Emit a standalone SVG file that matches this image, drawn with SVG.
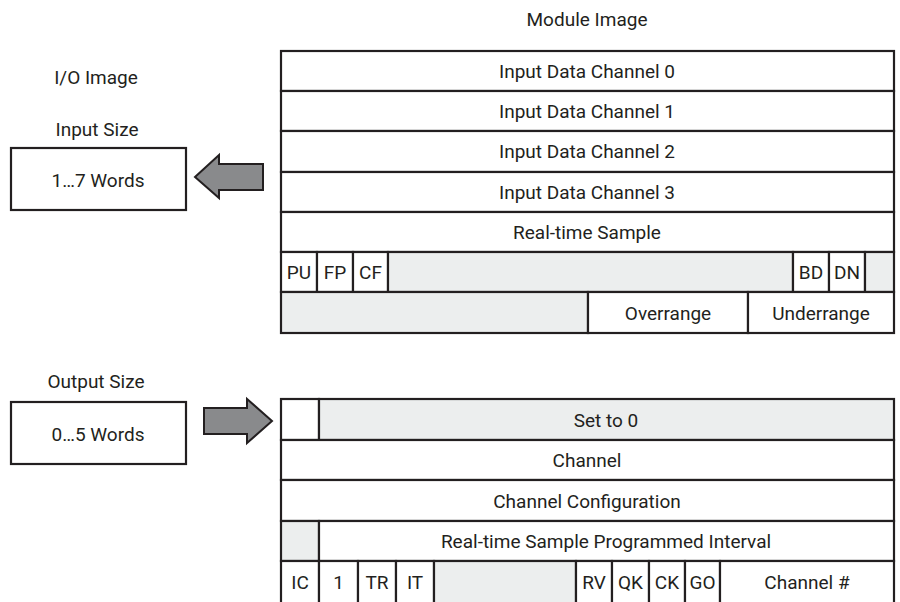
<svg xmlns="http://www.w3.org/2000/svg" width="900" height="602" viewBox="0 0 900 602">
<style>
  text { font-family: Roboto, "Liberation Sans", sans-serif; font-size: 19px; fill: #231f20; text-anchor: middle; dominant-baseline: central; }
  .c { fill: #ffffff; stroke: #231f20; stroke-width: 2.2; }
  .g { fill: #eceeee; stroke: #231f20; stroke-width: 2.2; }
  .arrow { fill: #898a8c; stroke: #231f20; stroke-width: 2; stroke-linejoin: miter; }
</style>
<rect width="900" height="602" fill="#ffffff"/>

<text x="587" y="19">Module Image</text>
<text x="96" y="77">I/O Image</text>
<text x="97" y="129">Input Size</text>
<text x="96" y="381">Output Size</text>

<g id="input-size-box">
  <rect class="c" x="11" y="148" width="175" height="62"/>
  <text x="98" y="180">1…7 Words</text>
</g>
<g id="output-size-box">
  <rect class="c" x="11" y="402" width="175" height="62"/>
  <text x="98" y="434">0…5 Words</text>
</g>

<g id="connectors">
  <polygon class="arrow" points="195,177 219,155 219,164 263,164 263,190 219,190 219,198"/>
  <polygon class="arrow" points="204,408 247,408 247,399 272,421 247,443 247,434 204,434"/>
</g>

<g id="module-input">
  <g id="in-ch0"><rect class="c" x="281" y="51" width="613" height="40"/><text x="587" y="71">Input Data Channel 0</text></g>
  <g id="in-ch1"><rect class="c" x="281" y="91" width="613" height="40"/><text x="587" y="111">Input Data Channel 1</text></g>
  <g id="in-ch2"><rect class="c" x="281" y="131" width="613" height="41"/><text x="587" y="151">Input Data Channel 2</text></g>
  <g id="in-ch3"><rect class="c" x="281" y="172" width="613" height="40"/><text x="587" y="192">Input Data Channel 3</text></g>
  <g id="in-rts"><rect class="c" x="281" y="212" width="613" height="40"/><text x="587" y="232">Real-time Sample</text></g>
  <g id="in-status">
    <rect class="c" x="281" y="252" width="36" height="40"/><text x="299" y="272">PU</text>
    <rect class="c" x="317" y="252" width="36" height="40"/><text x="335" y="272">FP</text>
    <rect class="c" x="353" y="252" width="35" height="40"/><text x="370.5" y="272">CF</text>
    <rect class="g" x="388" y="252" width="405" height="40"/>
    <rect class="c" x="793" y="252" width="36" height="40"/><text x="811" y="272">BD</text>
    <rect class="c" x="829" y="252" width="36" height="40"/><text x="847" y="272">DN</text>
    <rect class="g" x="865" y="252" width="29" height="40"/>
  </g>
  <g id="in-range">
    <rect class="g" x="281" y="292" width="307" height="41"/>
    <rect class="c" x="588" y="292" width="160" height="41"/><text x="668" y="313">Overrange</text>
    <rect class="c" x="748" y="292" width="146" height="41"/><text x="821" y="313">Underrange</text>
  </g>
</g>

<g id="module-output">
  <g id="out-set0">
    <rect class="c" x="281" y="399" width="38" height="41"/>
    <rect class="g" x="319" y="399" width="575" height="41"/><text x="606" y="420">Set to 0</text>
  </g>
  <g id="out-channel"><rect class="c" x="281" y="440" width="613" height="40"/><text x="587" y="460">Channel</text></g>
  <g id="out-config"><rect class="c" x="281" y="480" width="613" height="41"/><text x="587" y="501">Channel Configuration</text></g>
  <g id="out-rtspi">
    <rect class="g" x="281" y="521" width="38" height="40"/>
    <rect class="c" x="319" y="521" width="575" height="40"/><text x="606" y="541">Real-time Sample Programmed Interval</text>
  </g>
  <g id="out-bits">
    <rect class="c" x="281" y="561" width="38" height="45"/><text x="300" y="582">IC</text>
    <rect class="c" x="319" y="561" width="39" height="45"/><text x="338.5" y="582">1</text>
    <rect class="c" x="358" y="561" width="38" height="45"/><text x="377" y="582">TR</text>
    <rect class="c" x="396" y="561" width="38" height="45"/><text x="415" y="582">IT</text>
    <rect class="g" x="434" y="561" width="142" height="45"/>
    <rect class="c" x="576" y="561" width="36" height="45"/><text x="594" y="582">RV</text>
    <rect class="c" x="612" y="561" width="37" height="45"/><text x="630.5" y="582">QK</text>
    <rect class="c" x="649" y="561" width="36" height="45"/><text x="667" y="582">CK</text>
    <rect class="c" x="685" y="561" width="35" height="45"/><text x="702.5" y="582">GO</text>
    <rect class="c" x="720" y="561" width="174" height="45"/><text x="807" y="582">Channel #</text>
  </g>
</g>
</svg>
